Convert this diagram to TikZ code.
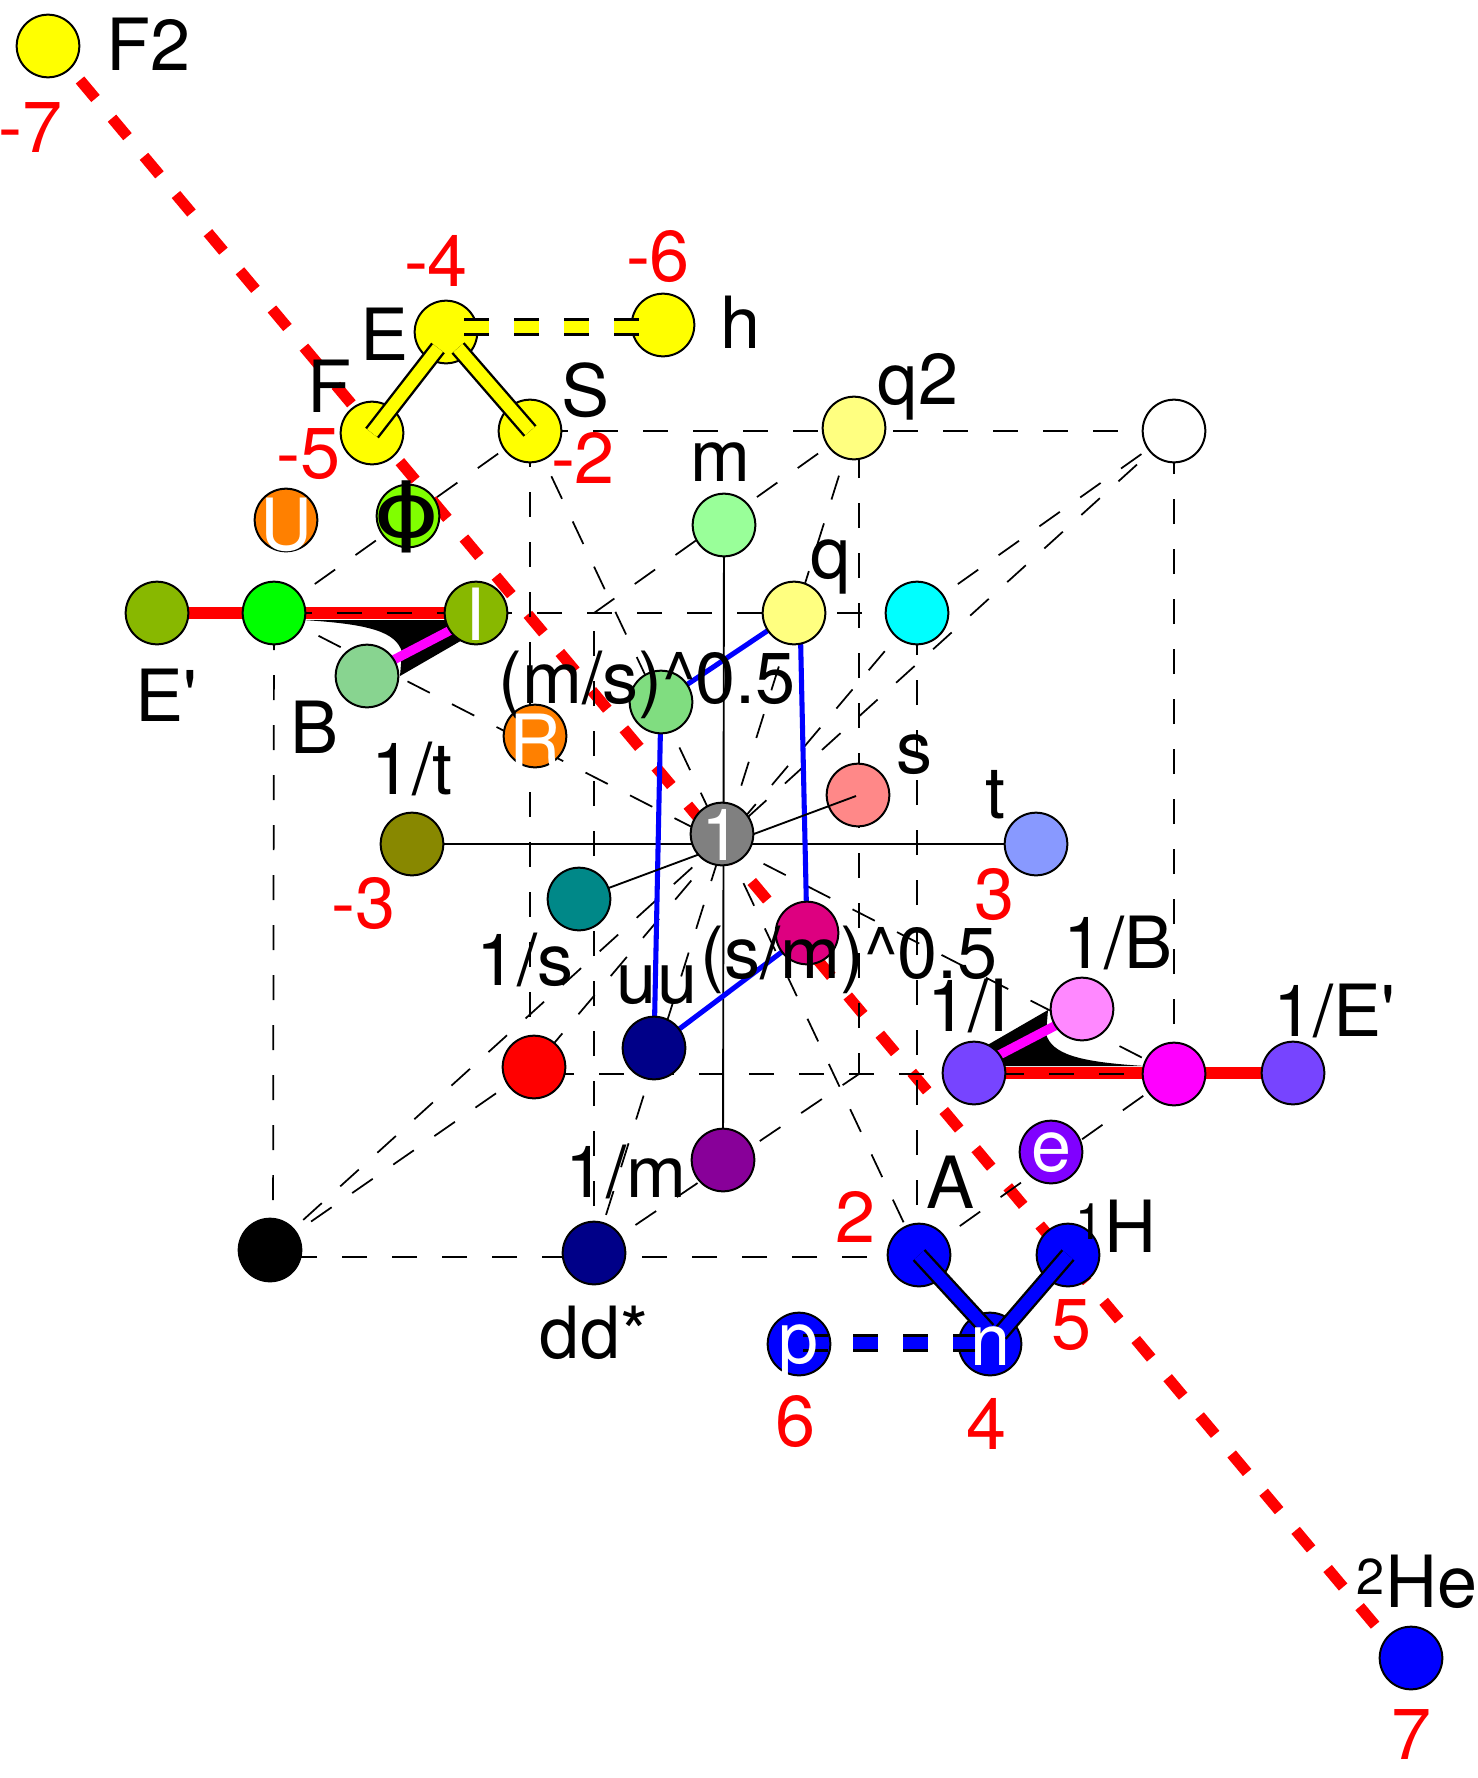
\documentclass[tikz,border=0pt]{standalone}
\usepackage{fontspec}
\newfontfamily\labelfont{TeX Gyre Heros}
\newfontfamily\phifont{DejaVu Sans}
\usetikzlibrary{backgrounds}
\definecolor{puregold}{HTML}{FFFF00}
\definecolor{aqua}{HTML}{00FFFF}
\definecolor{fuchsia}{HTML}{FF00FF}
\definecolor{lemon}{HTML}{FFFF80}
\definecolor{mint}{HTML}{99FF99}
\definecolor{tangerine}{HTML}{FF8000}
\definecolor{lime}{HTML}{80FF00}
\definecolor{moss}{HTML}{88B800}
\definecolor{sage}{HTML}{88D490}
\definecolor{leaf}{HTML}{80DD80}
\definecolor{khaki}{HTML}{888800}
\definecolor{periwinkle}{HTML}{8899FF}
\definecolor{salmon}{HTML}{FF8888}
\definecolor{tealblue}{HTML}{008888}
\definecolor{crimson}{HTML}{DD0080}
\definecolor{navyblue}{HTML}{000088}
\definecolor{plum}{HTML}{880099}
\definecolor{orchid}{HTML}{FF88FF}
\definecolor{iris}{HTML}{7744FF}
\definecolor{violetblue}{HTML}{8000FF}
\tikzset{
  atom/.style={circle,draw=black,line width=1.5pt,minimum size=47pt,inner sep=0pt},
  txt/.style={anchor=base,inner sep=0pt,font=\labelfont\fontsize{54}{54}\selectfont},
  val/.style={txt,text=red},
  wht/.style={txt,text=white},
  wire/.style={line width=1.3pt,dash pattern=on 18.75pt off 18.75pt},
  axisline/.style={line width=1.4pt},
  bluelink/.style={blue,line width=3.8pt},
  bond/.style={draw=black,line width=1.8pt,double distance=9.3pt},
  dashbond/.style={bond,dash pattern=on 18.75pt off 18.75pt},
}
\begin{document}
\begin{tikzpicture}[x=0.75pt,y=0.75pt,yscale=-1,xscale=1]
\useasboundingbox (0,0) rectangle (1478,1778);

% atoms
\node [atom,fill=puregold] (Ftwo) at (48,46) {};
\node [atom,fill=puregold] (E) at (446,332) {};
\node [atom,fill=puregold] (h) at (663,325) {};
\node [atom,fill=puregold] (F) at (372,433) {};
\node [atom,fill=puregold] (S) at (530,431) {};
\node [atom,fill=lemon] (qtwo) at (854,428) {};
\node [atom,fill=white] (corner) at (1174,431) {};
\node [atom,fill=mint] (m) at (724,525) {};
\node [atom,fill=tangerine] (U) at (286,520) {};
\node [atom,fill=lime] (phi) at (408,516) {};
\node [atom,fill=moss] (Eprime) at (157,613) {};
\node [atom,fill=green] (lime) at (274,613) {};
\node [atom,fill=moss] (I) at (476,613) {};
\node [atom,fill=lemon] (q) at (794,613) {};
\node [atom,fill=aqua] (cyan) at (917,613) {};
\node [atom,fill=sage] (B) at (367,676) {};
\node [atom,fill=leaf] (msroot) at (661,702) {};
\node [atom,fill=tangerine] (R) at (535,736) {};
\node [atom,fill=khaki] (invt) at (412,844) {};
\node [atom,fill=periwinkle] (t) at (1036,844) {};
\node [atom,fill=gray] (one) at (722,834) {};
\node [atom,fill=tealblue] (invs) at (579,899) {};
\node [atom,fill=crimson] (smroot) at (807,933) {};
\node [atom,fill=orchid] (invB) at (1082,1009) {};
\node [atom,fill=navyblue] (uu) at (654,1048) {};
\node [atom,fill=red] (rednode) at (534,1067) {};
\node [atom,fill=iris] (invI) at (974,1073) {};
\node [atom,fill=fuchsia] (pink) at (1174,1074) {};
\node [atom,fill=iris] (invE) at (1293,1073) {};
\node [atom,fill=violetblue] (e) at (1051,1152) {};
\node [atom,fill=plum] (invm) at (723,1160) {};
\node [atom,fill=black] (blacknode) at (270,1250) {};
\node [atom,fill=navyblue] (dd) at (594,1253) {};
\node [atom,fill=blue] (A) at (919,1255) {};
\node [atom,fill=blue] (H) at (1068,1255) {};
\node [atom,fill=blue] (p) at (799,1344) {};
\node [atom,fill=blue] (n) at (990,1344) {};
\node [atom,fill=blue] (He) at (1411,1658) {};

\coordinate (topin) at (594,613);
\coordinate (topmid) at (859,431);
\coordinate (botmid) at (859,1074);
\coordinate (botback) at (530,1074);
\coordinate (leftfoot) at (273,1250);
\coordinate (botleft) at (273,1257);
\coordinate (botright) at (917,1257);
\coordinate (rightfoot) at (917,1255);
\coordinate (diagstart) at (80,80);
\coordinate (diagend) at (1411,1668);

\begin{scope}[on background layer]
\draw [red,line width=8.3pt,dash pattern=on 18.1pt off 19.25pt] (diagstart) -- (diagend);

\draw [red,line width=9pt] (Eprime.center) -- (I.center);
\draw [red,line width=9pt] (invI.center) -- (invE.center);
\fill (303,620) .. controls (370,624) and (396,632) .. (402,652) -- (400,676) -- (464,639) -- (476,620) -- cycle;
\fill (1145,1066) .. controls (1078,1062) and (1052,1054) .. (1046,1034) -- (1048,1010) -- (984,1047) -- (972,1066) -- cycle;
\draw [fuchsia,line width=7pt] (380,667) -- (470,620);
\draw [fuchsia,line width=7pt] (1068,1019) -- (978,1066);

% cube edges
\draw [wire,dash phase=27.75pt] (lime.center) -- (cyan.center);
\draw [wire] (leftfoot) -- (lime.center);
\draw [wire] (botright) -- (botleft);
\draw [wire] (rightfoot) -- (cyan.center);
\draw [wire,dash phase=27.75pt] (S.center) -- (corner.center);
\draw [wire,dash phase=29.25pt] (S.center) -- (botback);
\draw [wire] (pink.center) -- (corner.center);
\draw [wire] (pink.center) -- (botback);
\draw [wire] (lime.center) -- (S.center);
\draw [wire] (cyan.center) -- (corner.center);
\draw [wire] (blacknode.center) -- (rednode.center);
\draw [wire] (A.center) -- (pink.center);
\draw [wire,dash phase=2.25pt] (dd.center) -- (topin);
\draw [wire] (topin) -- (qtwo.center);
\draw [wire] (dd.center) -- (botmid);
\draw [wire,dash phase=3pt] (botmid) -- (topmid);
% diagonals
\draw [wire] (S.center) -- (A.center);
\draw [wire] (corner.center) -- (blacknode.center);
\draw [wire] (cyan.center) -- (rednode.center);
\draw [wire] (lime.center) -- (pink.center);
\draw [wire] (qtwo.center) -- (dd.center);

\draw [axisline] (invt.center) -- (t.center);
\draw [axisline] (m.center) -- (invm.center);

\draw [bluelink] ([xshift=4.5pt]q.center) -- (smroot.center);
\draw [bluelink] (q.center) -- (msroot.center);
\draw [bluelink] (msroot.center) -- (uu.center);
\draw [bluelink] (uu.center) -- (smroot.center);

\node [atom,fill=salmon] (s) at (858,795) {};
\draw [axisline] ([shift={(-2,1)}]s.center) -- (invs.center);
\end{scope}

\draw [bond,double=puregold] (438,348) -- (F.center);
\draw [bond,double=puregold] (458,348) -- (S.center);
\draw [dashbond,double=puregold] (464,327) -- (640,327);
\draw [bond,double=blue] (A.center) -- (988,1330);
\draw [bond,double=blue] (H.center) -- (1000,1334);
\draw [dashbond,double=blue] (803,1343) -- (1003,1343);

% labels
\node [txt] (lblFtwo) at (149,70) {F2};
\node [txt] (lblE) at (385,360) {E};
\node [txt] (lblF) at (329,412) {F};
\node [txt] (lblS) at (586,416) {S};
\node [txt] (lblh) at (741,348) {h};
\node [txt] (lblqtwo) at (918,404) {q2};
\node [txt] (lblm) at (720,481) {m};
\node [txt] (lblEprime) at (166,721) {E'};
\node [txt] (lblB) at (315,753) {B};
\node [txt] (lblq) at (831,578) {q};
\node [txt] (lblms) at (647,703) {(m/s)\^{}0.5};
\node [txt] (lbls) at (914,773) {s};
\node [txt] (lblinvt) at (412,794) {1/t};
\node [txt] (lblt) at (995,818) {t};
\node [txt] (lblinvs) at (525,985) {1/s};
\node [txt] (lbluu) at (657,1003) {uu};
\node [txt] (lblsm) at (849,978) {(s/m)\^{}0.5};
\node [txt] (lblinvB) at (1118,968) {1/B};
\node [txt] (lblinvI) at (968,1031) {1/I};
\node [txt] (lblinvE) at (1334,1036) {1/E'};
\node [txt] (lblinvm) at (626,1197) {1/m};
\node [txt] (lblA) at (951,1208) {A};
\node [txt] (lblH) at (1116,1252) {\textsuperscript{1}H};
\node [txt] (lbldd) at (594,1358) {dd*};
\node [txt] (lblHe) at (1417,1607) {\textsuperscript{2}He};
\node [txt,font=\phifont\fontsize{56}{56}\selectfont] (lblphi) at (407,537) {\scalebox{1.35}[1]{ϕ}};

\node [wht] (lblU) at (286,550) {U};
\node [wht] (lblI) at (476,640) {I};
\node [wht] (lblR) at (535,766) {R};
\node [wht] (lblone) at (722,860) {1};
\node [wht] (lble) at (1052,1171) {e};
\node [wht] (lblp) at (799,1363) {p};
\node [wht] (lbln) at (991,1365) {n};

\node [val] (valFtwo) at (31,152) {-7};
\node [val] (valE) at (436,286) {-4};
\node [val] (valh) at (658,281) {-6};
\node [val] (valF) at (309,478) {-5};
\node [val] (valS) at (583,483) {-2};
\node [val] (valinvt) at (364,928) {-3};
\node [val] (valt) at (995,919) {3};
\node [val] (valA) at (856,1242) {2};
\node [val] (valH) at (1072,1349) {5};
\node [val] (valp) at (796,1446) {6};
\node [val] (valn) at (987,1449) {4};
\node [val] (valHe) at (1411,1759) {7};
\end{tikzpicture}
\end{document}
